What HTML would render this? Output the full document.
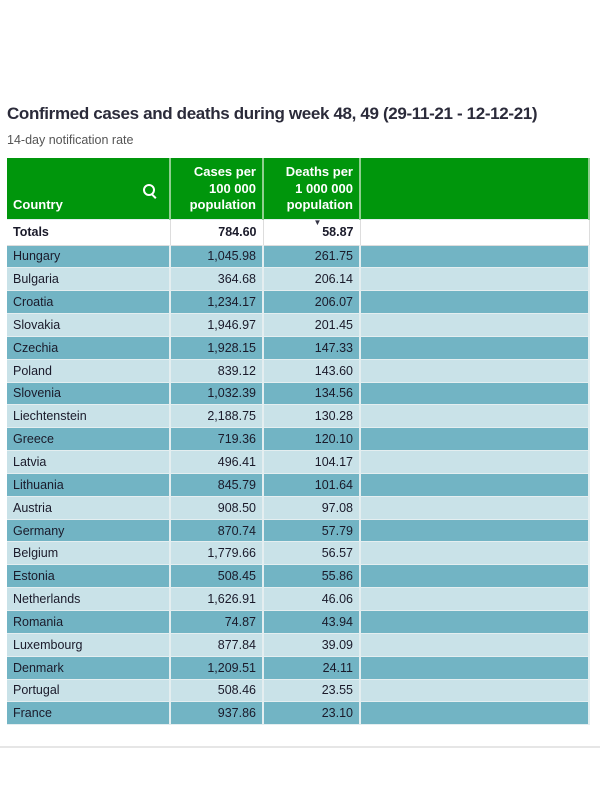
<!DOCTYPE html>
<html><head><style>
body{margin:0;width:600px;height:801px;background:#fff;font-family:"Liberation Sans",sans-serif;position:relative;overflow:hidden}
.t{position:absolute;left:7px;top:104px;font-size:17px;font-weight:bold;color:#2b2b3a;white-space:nowrap;letter-spacing:-0.35px}
.s{position:absolute;left:7px;top:133px;font-size:12.5px;color:#555}
table{position:absolute;left:7px;top:158px;border-collapse:collapse;width:583px;font-size:12.5px;color:#1a1a2a}
td{padding:0 6px;height:22.85px;border-right:2px solid #e4eef0;border-bottom:1px solid #e4eef0;box-sizing:border-box}
td.n{text-align:right}
tr.h td{background:#00960c;color:#fff;font-weight:bold;font-size:13px;height:61px;vertical-align:bottom;padding-bottom:5px;border-right:2px solid #8fcf8f;text-align:right;line-height:16.5px}
tr.h td:first-child{text-align:left}
tr.tot td{background:#fff;font-weight:bold;height:26px;border-right:1px solid #ddd;border-bottom:1px solid #ddd}
tr.d td{background:#72b4c4}
tr.l td{background:#c9e2e8}
.c1{width:163px}.c2{width:93px}.c3{width:97px}
.line{position:absolute;left:0;top:746px;width:600px;height:2px;background:#e6e6e6}
.mag{position:absolute;right:14px;top:26px;width:8px;height:8px;border:2px solid #fff;border-radius:50%}
.mag:after{content:"";position:absolute;left:8px;top:8px;width:5px;height:2px;background:#fff;transform:rotate(45deg);transform-origin:0 0}
</style></head><body>
<div class="t">Confirmed cases and deaths during week 48, 49 (29-11-21 - 12-12-21)</div>
<div class="s">14-day notification rate</div>
<table>
<tr class="h"><td class="c1" style="position:relative">Country<span class="mag"></span></td><td class="c2">Cases per<br>100 000<br>population</td><td class="c3">Deaths per<br>1 000 000<br>population</td><td></td></tr>
<tr class="tot"><td>Totals</td><td class="n">784.60</td><td class="n" style="position:relative">58.87<span style="position:absolute;left:50px;top:-2px;font-size:8px;color:#334">&#9660;</span></td><td></td></tr>
<tr class="d"><td>Hungary</td><td class="n">1,045.98</td><td class="n">261.75</td><td></td></tr>
<tr class="l"><td>Bulgaria</td><td class="n">364.68</td><td class="n">206.14</td><td></td></tr>
<tr class="d"><td>Croatia</td><td class="n">1,234.17</td><td class="n">206.07</td><td></td></tr>
<tr class="l"><td>Slovakia</td><td class="n">1,946.97</td><td class="n">201.45</td><td></td></tr>
<tr class="d"><td>Czechia</td><td class="n">1,928.15</td><td class="n">147.33</td><td></td></tr>
<tr class="l"><td>Poland</td><td class="n">839.12</td><td class="n">143.60</td><td></td></tr>
<tr class="d"><td>Slovenia</td><td class="n">1,032.39</td><td class="n">134.56</td><td></td></tr>
<tr class="l"><td>Liechtenstein</td><td class="n">2,188.75</td><td class="n">130.28</td><td></td></tr>
<tr class="d"><td>Greece</td><td class="n">719.36</td><td class="n">120.10</td><td></td></tr>
<tr class="l"><td>Latvia</td><td class="n">496.41</td><td class="n">104.17</td><td></td></tr>
<tr class="d"><td>Lithuania</td><td class="n">845.79</td><td class="n">101.64</td><td></td></tr>
<tr class="l"><td>Austria</td><td class="n">908.50</td><td class="n">97.08</td><td></td></tr>
<tr class="d"><td>Germany</td><td class="n">870.74</td><td class="n">57.79</td><td></td></tr>
<tr class="l"><td>Belgium</td><td class="n">1,779.66</td><td class="n">56.57</td><td></td></tr>
<tr class="d"><td>Estonia</td><td class="n">508.45</td><td class="n">55.86</td><td></td></tr>
<tr class="l"><td>Netherlands</td><td class="n">1,626.91</td><td class="n">46.06</td><td></td></tr>
<tr class="d"><td>Romania</td><td class="n">74.87</td><td class="n">43.94</td><td></td></tr>
<tr class="l"><td>Luxembourg</td><td class="n">877.84</td><td class="n">39.09</td><td></td></tr>
<tr class="d"><td>Denmark</td><td class="n">1,209.51</td><td class="n">24.11</td><td></td></tr>
<tr class="l"><td>Portugal</td><td class="n">508.46</td><td class="n">23.55</td><td></td></tr>
<tr class="d"><td>France</td><td class="n">937.86</td><td class="n">23.10</td><td></td></tr>
</table>
<div class="line"></div>
</body></html>
